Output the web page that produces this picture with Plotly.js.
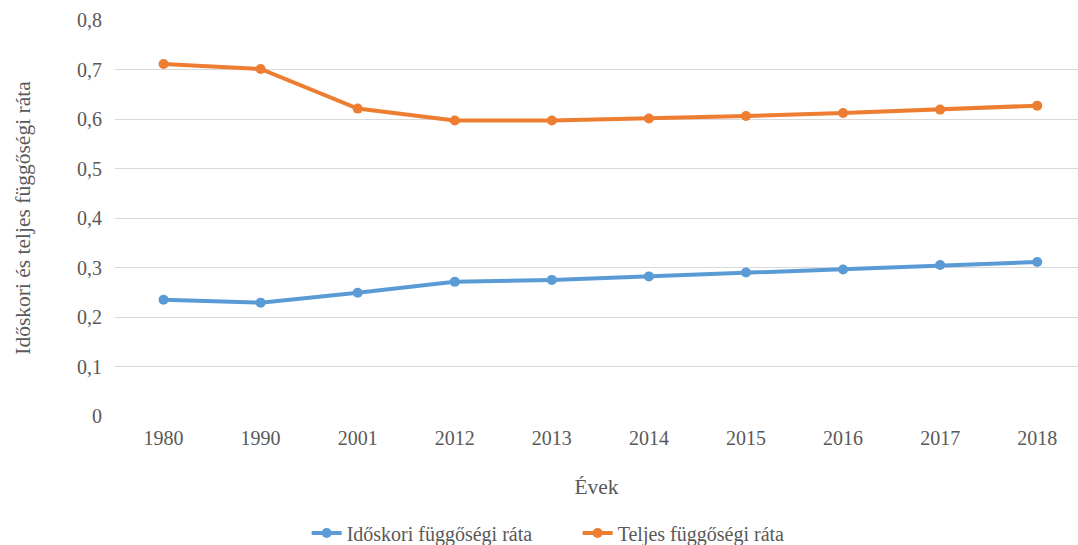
<!DOCTYPE html>
<html><head><meta charset="utf-8">
<script src="https://cdn.plot.ly/plotly-3.0.1.min.js"></script>
<style>body{margin:0;background:#fff}#c{width:1078px;height:545px}</style>
</head><body><div id="c"></div>
<script>
const years = ['1980','1990','2001','2012','2013','2014','2015','2016','2017','2018'];
const idoskori = [0.235, 0.229, 0.249, 0.271, 0.275, 0.282, 0.290, 0.296, 0.305, 0.311];
const teljes = [0.711, 0.701, 0.621, 0.597, 0.597, 0.601, 0.606, 0.612, 0.619, 0.627];
const yTicks = [0,0.1,0.2,0.3,0.4,0.5,0.6,0.7,0.8];
const yTickText = ['0','0,1','0,2','0,3','0,4','0,5','0,6','0,7','0,8'];

const fam = '"Liberation Serif", "Times New Roman", serif';
const font = {family:fam, color:'#595959', size:20};
const titleFont = {family:fam, color:'#595959', size:21.5};
const traces = [
  {x: years, y: idoskori, name:'Időskori függőségi ráta', type:'scatter', mode:'lines+markers',
   line:{color:'#5B9BD5', width:4}, marker:{color:'#5B9BD5', size:10}},
  {x: years, y: teljes, name:'Teljes függőségi ráta', type:'scatter', mode:'lines+markers',
   line:{color:'#ED7D31', width:4}, marker:{color:'#ED7D31', size:10}}
];
const layout = {
  width:1078, height:545,
  margin:{l:115, r:0, t:20, b:129, autoexpand:false},
  paper_bgcolor:'#fff', plot_bgcolor:'#fff',
  font: font,
  showlegend:true,
  legend:{orientation:'h', x:0.199, xanchor:'left', yref:'container', y:0.022, yanchor:'middle', font:font,
    tracegroupgap:0, entrywidth:226, entrywidthmode:'pixels'},
  xaxis:{type:'category', range:[-0.5, 9.42], showgrid:false, zeroline:false, showline:false, ticks:'', automargin:false,
    tickfont:font, ticklabelstandoff:8, title:{text:'Évek', font:titleFont, standoff:30}},
  yaxis:{range:[0,0.8], tickvals:yTicks, ticktext:yTickText, showgrid:true, gridcolor:'#d9d9d9', gridwidth:1, automargin:false,
    zeroline:false, showline:false, ticks:'', tickfont:font, ticklabelstandoff:12,
    title:{text:'Időskori és teljes függőségi ráta', font:titleFont, standoff:40}}
};
Plotly.newPlot('c', traces, layout, {displayModeBar:false, staticPlot:true});
</script></body></html>
